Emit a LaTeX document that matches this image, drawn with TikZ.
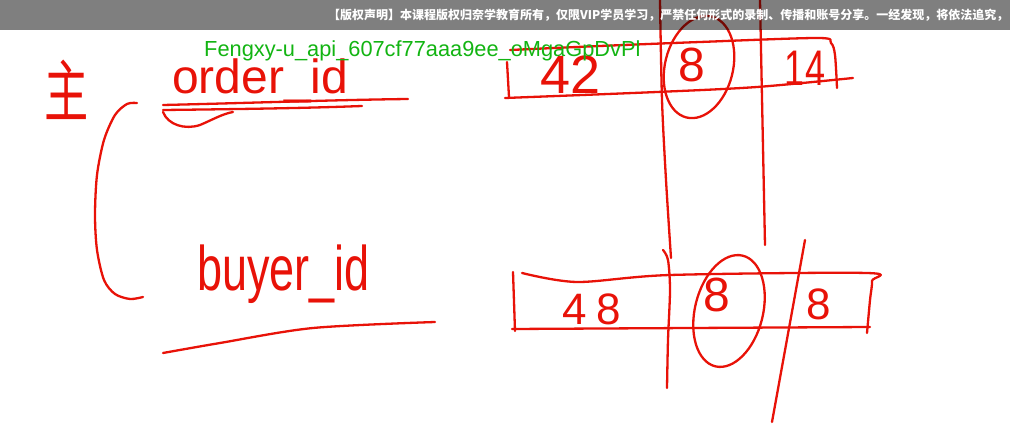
\documentclass[tikz,border=0pt]{standalone}
\usepackage{fontspec}
\setmainfont{Liberation Sans}
\newfontfamily\cjkfont{Noto Sans CJK SC}
\definecolor{inkred}{RGB}{232,18,8}
\definecolor{markgreen}{RGB}{18,180,18}
\begin{document}
\begin{tikzpicture}[x=1pt, y=-1pt,
  ink/.style={draw=inkred, line width=2.3pt, line cap=round, line join=round},
  hand/.style={text=inkred, inner sep=0pt, font=\fontsize{#1}{#1}\selectfont},
]
\useasboundingbox (0,0) rectangle (1010,438);

\node[hand=52] (zhu) at (67,90) {\cjkfont\scalebox{0.85}[1.3]{主}};
\node[hand=48, anchor=base west] (order) at (172,94) {order\_id};
\node[hand=45, anchor=base west] (buyer) at (197,291) {\scalebox{1}[1.4]{buyer\_id}};

\node[hand=54] (n42) at (571,75) {42};
\node[hand=48] (t8) at (692,65) {8};
\node[hand=50] (n14) at (805,68) {\scalebox{0.72}[1]{14}};
\node[hand=44] (n48) at (592,309) {4\hspace{10pt}8};
\node[hand=48] (b8) at (717,295) {8};
\node[hand=44] (r8) at (819,304) {8};

\draw[ink] plot[smooth] coordinates {(137,103) (127,104) (115,115) (104,140) (97,175) (95,215) (97,250) (104,280) (115,294) (130,299) (143,297)};

\draw[ink] (163,105) .. controls (250,103) and (330,100) .. (408,99);
\draw[ink] (163,110) .. controls (250,109) and (310,108) .. (362,106);
\draw[ink] (163,112) .. controls (168,125) and (185,130) .. (200,125) .. controls (212,120) and (222,114) .. (233,112);
\draw[ink] plot[smooth] coordinates {(163,353) (220,343) (313,328) (435,322)};

\draw[ink] (507,62) -- (509,97);
\draw[ink] plot[smooth] coordinates {(510,50) (600,46) (700,42) (818,38) (831,43) (835,55) (837,88)};
\draw[ink] plot[smooth] coordinates {(505,98) (657,92) (757,87) (853,78)};
\draw[ink] plot[smooth] coordinates {(660,0) (662,100) (666,180) (671,258)};
\draw[ink] (760,0) -- (765,245);
\draw[ink, rotate around={-14:(699,67)}] (699,67) ellipse [x radius=34, y radius=52];

\draw[ink] (513,272) -- (515,331);
\draw[ink] plot[smooth] coordinates {(522,273) (577,282) (670,275) (867,273) (872,281) (870,300) (867,333)};
\draw[ink] (512,329) -- (870,327);
\draw[ink] plot[smooth] coordinates {(663,250) (668,260) (670,290) (668,340) (667,388)};
\draw[ink] (805,240) -- (772,422);
\draw[ink, rotate around={-14:(729,311)}] (729,311) ellipse [x radius=34, y radius=57];

\node[text=markgreen, inner sep=0pt, anchor=base west, font=\fontsize{21.8}{22}\selectfont] (mark) at (204,57) {Fengxy-u\_api\_607cf77aaa9ee\_oMgaGpDvPl};

\fill[black, opacity=0.5] (0,0) rectangle (1010,30);
\node[text=white, inner sep=0pt, anchor=west, font=\cjkfont\bfseries\fontsize{12}{13}\selectfont] (notice) at (328,15) {【版权声明】本课程版权归奈学教育所有，仅限VIP学员学习，严禁任何形式的录制、传播和账号分享。一经发现，将依法追究，};
\end{tikzpicture}
\end{document}
